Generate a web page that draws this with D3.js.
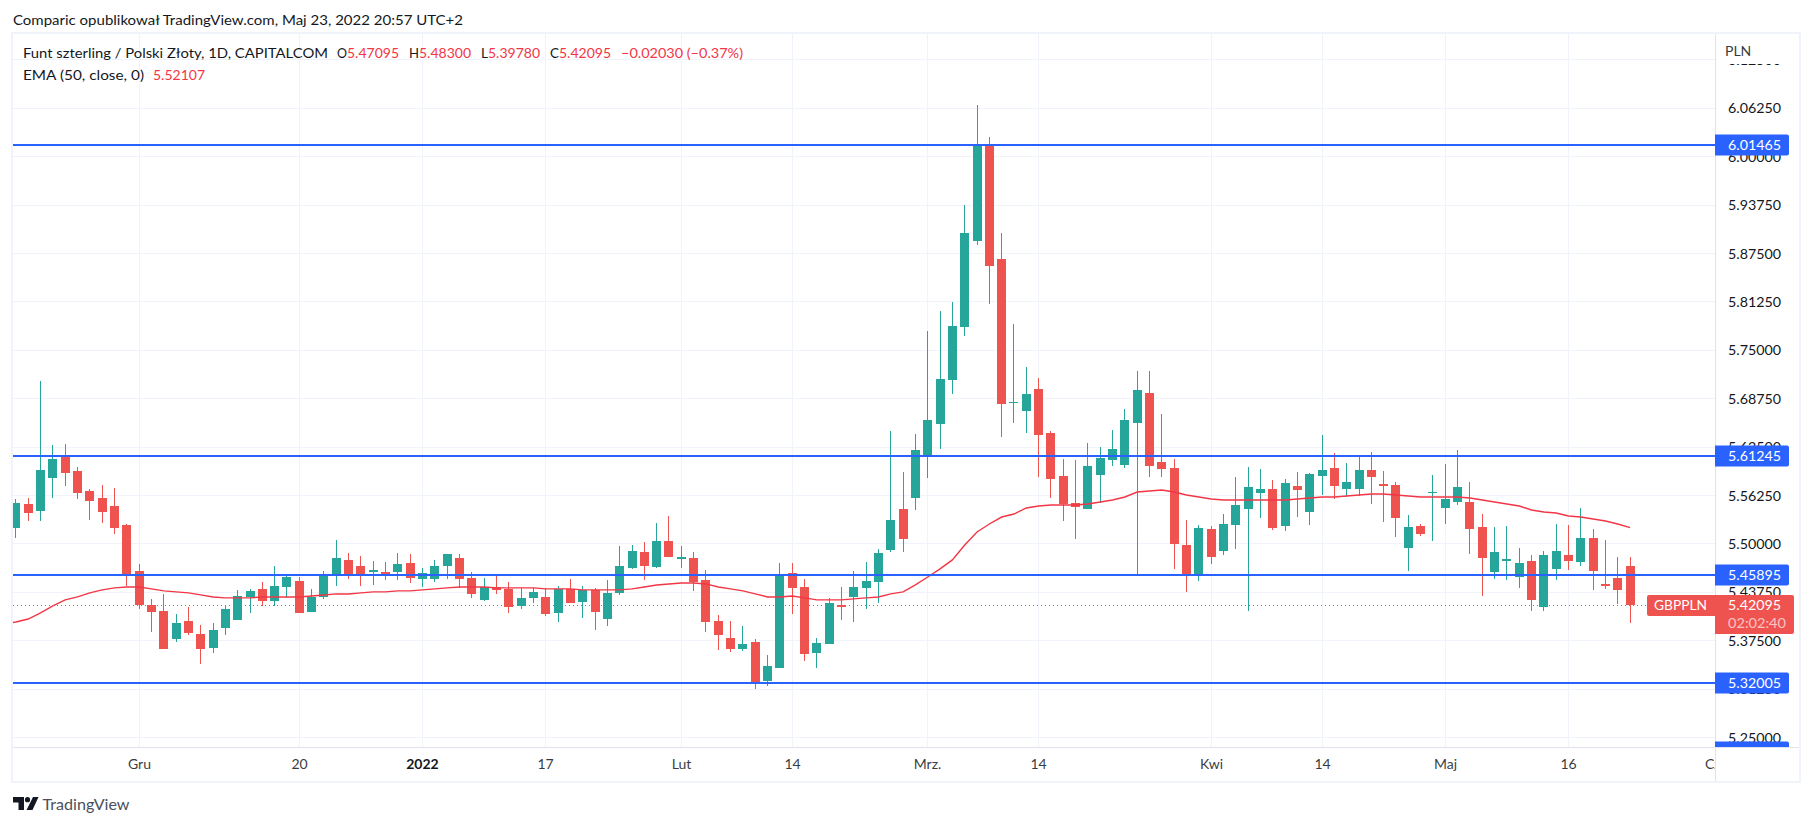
<!DOCTYPE html>
<html><head><meta charset="utf-8">
<script src="https://cdn.jsdelivr.net/npm/d3@7/dist/d3.min.js"></script>
<style>html,body{margin:0;padding:0;background:#fff}svg{display:block}text{font-family:Lato,"Noto Sans",sans-serif}</style>
</head><body><div id="c"></div>
<script>
const open=[5.5206,5.5515,5.5425,5.5851,5.6135,5.5941,5.5683,5.5593,5.5489,5.5244,5.4651,5.4212,5.4134,5.3772,5.4004,5.3837,5.3656,5.3914,5.4017,5.4315,5.4419,5.4264,5.4444,5.4522,5.4121,5.4315,5.4586,5.4793,5.4715,5.4638,5.4638,5.4638,5.4754,5.4548,5.4548,5.4715,5.4819,5.4561,5.4277,5.4444,5.4419,5.4199,5.4303,5.4315,5.4108,5.4419,5.4251,5.4406,5.4030,5.4367,5.4690,5.4896,5.4702,5.5038,5.4806,5.4819,5.4535,5.4004,5.3785,5.3643,5.3733,5.3229,5.3397,5.4625,5.4444,5.3591,5.3708,5.4212,5.4315,5.4432,5.4509,5.4922,5.5451,5.5593,5.6148,5.6548,5.7116,5.7801,5.8912,6.0151,5.8679,5.6820,5.6716,5.7000,5.6432,5.5877,5.5528,5.5451,5.5890,5.6084,5.6019,5.6561,5.6949,5.6058,5.5980,5.4986,5.4599,5.5193,5.4909,5.5244,5.5451,5.5658,5.5709,5.5231,5.5748,5.5412,5.5877,5.5980,5.5709,5.5709,5.5954,5.5774,5.5761,5.4948,5.5231,5.5658,5.5464,5.5541,5.5541,5.5218,5.4638,5.4780,5.4573,5.4780,5.4186,5.4677,5.4857,5.4767,5.5077,5.4483,5.4561,5.47095];
const high=[5.5580,5.5593,5.7104,5.6277,5.6290,5.5993,5.5709,5.5761,5.5722,5.5257,5.4741,5.4290,5.4354,5.4095,5.4186,5.3953,5.3979,5.4199,5.4406,5.4419,5.4509,5.4715,5.4586,5.4573,5.4419,5.4651,5.5051,5.4883,5.4844,5.4780,5.4767,5.4883,5.4870,5.4690,5.4793,5.4870,5.4870,5.4638,5.4561,5.4599,5.4509,5.4432,5.4432,5.4432,5.4457,5.4548,5.4457,5.4432,5.4535,5.4973,5.4986,5.5025,5.5270,5.5360,5.4973,5.4896,5.4664,5.4082,5.4004,5.3940,5.3772,5.3565,5.4754,5.4754,5.4548,5.3785,5.4303,5.4444,5.4651,5.4767,5.4935,5.6458,5.5929,5.6419,5.7749,5.8008,5.8124,5.9376,6.0668,6.0254,5.9015,5.7840,5.7285,5.7142,5.6458,5.6096,5.6084,5.6303,5.6251,5.6471,5.6742,5.7233,5.7233,5.6678,5.6096,5.5309,5.5244,5.5231,5.5386,5.5864,5.5993,5.5967,5.5825,5.5838,5.5929,5.5916,5.6406,5.6174,5.6045,5.6148,5.6187,5.5941,5.5799,5.5373,5.5257,5.5890,5.6032,5.6213,5.5799,5.5386,5.5218,5.5231,5.4948,5.4857,5.4909,5.5257,5.5244,5.5464,5.5193,5.5051,5.4831,5.48300];
const low=[5.5077,5.5296,5.5296,5.5593,5.5748,5.5580,5.5309,5.5270,5.5128,5.4457,5.4161,5.3863,5.3643,5.3733,5.3824,5.3449,5.3591,5.3824,5.4017,5.4108,5.4199,5.4199,5.4303,5.4108,5.4121,5.4290,5.4457,5.4548,5.4457,5.4470,5.4535,5.4535,5.4496,5.4444,5.4509,5.4548,5.4432,5.4303,5.4264,5.4354,5.4108,5.4161,5.4238,5.4069,5.3991,5.4238,5.4043,5.3888,5.3940,5.4341,5.4677,5.4535,5.4690,5.4831,5.4690,5.4393,5.3863,5.3630,5.3604,5.3617,5.3126,5.3165,5.3397,5.4095,5.3488,5.3397,5.3708,5.4017,5.3991,5.4161,5.4238,5.4896,5.4896,5.5438,5.5851,5.6226,5.6936,5.7685,5.8860,5.8098,5.6380,5.6561,5.6432,5.5864,5.5593,5.5296,5.5064,5.5451,5.5528,5.6006,5.5980,5.4586,5.5864,5.5864,5.4677,5.4380,5.4522,5.4741,5.4857,5.4935,5.4134,5.5335,5.5180,5.5167,5.5347,5.5244,5.5632,5.5580,5.5606,5.5619,5.5515,5.5283,5.5089,5.4651,5.5102,5.5038,5.5257,5.5502,5.4870,5.4328,5.4548,5.4535,5.4432,5.4134,5.4134,5.4535,5.4664,5.4715,5.4406,5.4419,5.4225,5.39780];
const close=[5.5528,5.5399,5.5954,5.6096,5.5916,5.5658,5.5554,5.5412,5.5206,5.4612,5.4212,5.4121,5.3643,5.3979,5.3850,5.3643,5.3888,5.4161,5.4328,5.4393,5.4264,5.4457,5.4573,5.4108,5.4315,5.4612,5.4819,5.4599,5.4612,5.4664,5.4586,5.4741,5.4561,5.4625,5.4715,5.4870,5.4548,5.4354,5.4444,5.4406,5.4186,5.4303,5.4380,5.4095,5.4419,5.4238,5.4406,5.4121,5.4367,5.4715,5.4909,5.4715,5.5038,5.4831,5.4831,5.4509,5.3991,5.3824,5.3643,5.3708,5.3191,5.3423,5.4599,5.4432,5.3578,5.3720,5.4238,5.4186,5.4444,5.4522,5.4883,5.5309,5.5064,5.6213,5.6600,5.7129,5.7814,5.9015,6.0151,5.8589,5.6807,5.6833,5.6936,5.6406,5.5838,5.5515,5.5476,5.6006,5.6109,5.6226,5.6600,5.6987,5.6006,5.5967,5.4999,5.4586,5.5206,5.4831,5.5257,5.5502,5.5735,5.5709,5.5206,5.5787,5.5696,5.5903,5.5954,5.5748,5.5799,5.5954,5.5864,5.5748,5.5335,5.5218,5.5128,5.5670,5.5580,5.5735,5.5193,5.4819,5.4896,5.4806,5.4754,5.4277,5.4857,5.4909,5.4780,5.5077,5.4651,5.4457,5.4406,5.42095];
const ema=[5.3991,5.4030,5.4108,5.4199,5.4277,5.4315,5.4367,5.4406,5.4432,5.4444,5.4444,5.4419,5.4393,5.4380,5.4367,5.4341,5.4315,5.4303,5.4303,5.4303,5.4315,5.4315,5.4315,5.4315,5.4328,5.4341,5.4354,5.4354,5.4367,5.4380,5.4380,5.4393,5.4393,5.4406,5.4419,5.4432,5.4444,5.4444,5.4444,5.4432,5.4432,5.4432,5.4432,5.4419,5.4419,5.4419,5.4406,5.4406,5.4406,5.4406,5.4419,5.4444,5.4470,5.4483,5.4496,5.4496,5.4483,5.4444,5.4419,5.4393,5.4354,5.4315,5.4315,5.4328,5.4303,5.4277,5.4277,5.4277,5.4290,5.4303,5.4315,5.4354,5.4380,5.4470,5.4573,5.4677,5.4793,5.4986,5.5154,5.5257,5.5347,5.5386,5.5464,5.5489,5.5502,5.5502,5.5502,5.5515,5.5541,5.5567,5.5606,5.5670,5.5683,5.5696,5.5670,5.5632,5.5606,5.5580,5.5567,5.5567,5.5567,5.5567,5.5567,5.5567,5.5580,5.5593,5.5606,5.5606,5.5619,5.5632,5.5645,5.5645,5.5632,5.5619,5.5606,5.5606,5.5606,5.5606,5.5593,5.5567,5.5541,5.5515,5.5489,5.5438,5.5412,5.5399,5.5360,5.5347,5.5322,5.5296,5.5257,5.52107];
const emaBeforeFirstBar=5.3965;
const priceTicks=[6.125,6.0625,6,5.9375,5.875,5.8125,5.75,5.6875,5.625,5.5625,5.5,5.4375,5.375,5.3125,5.25];
const levels=[6.01465,5.61245,5.45895,5.32005,5.2306];
const timeIdx=[10,23,33,43,54,63,74,83,97,106,116,126,138];
const timeLbl=["Gru","20","2022","17","Lut","14","Mrz.","14","Kwi","14","Maj","16","Cze"];
const lastClose=5.42095;
const symbol="GBPPLN", countdown="02:02:40";

const W=1813,H=826;
const paneL=13,paneR=1715,paneT=34,paneB=747;
const svg=d3.select("#c").append("svg").attr("width",W).attr("height",H);
const x=d3.scaleLinear().domain([0,131]).range([15.9,1630.1]);
const y=d3.scaleLinear().domain([6.0625,5.25]).range([108.3,737.5]);
const cx=i=>Math.floor(x(i))+.5;
const gy=v=>Math.floor(y(v))+.5;
const ink="#131722",green="#26a69a",red="#ef5350",blue="#2962ff",grid="#f0f3fa",axisC="#e0e3eb",legRed="#f23645";
const defs=svg.append("defs");
defs.append("clipPath").attr("id","pane").append("rect").attr("x",paneL).attr("y",paneT).attr("width",paneR-paneL).attr("height",paneB-paneT);
defs.append("clipPath").attr("id","paxis").append("rect").attr("x",paneR).attr("y",paneT).attr("width",90).attr("height",paneB-paneT);
defs.append("clipPath").attr("id","taxis").append("rect").attr("x",paneL).attr("y",paneB).attr("width",paneR-paneL).attr("height",34);

// frame
svg.append("rect").attr("x",12).attr("y",33).attr("width",1788).attr("height",749).attr("fill","none").attr("stroke",grid).attr("stroke-width",2);

const P=svg.append("g").attr("clip-path","url(#pane)");
// grid
P.append("g").selectAll("line").data(priceTicks).join("line").attr("x1",paneL).attr("x2",paneR).attr("y1",gy).attr("y2",gy).attr("stroke",grid).attr("shape-rendering","crispEdges");
P.append("g").selectAll("line").data(timeIdx).join("line").attr("x1",cx).attr("x2",cx).attr("y1",paneT).attr("y2",paneB).attr("stroke",grid).attr("shape-rendering","crispEdges");

// wicks & bodies
const idx=d3.range(open.length);
const col=i=>close[i]>=open[i]?green:red;
P.append("g").attr("shape-rendering","crispEdges").selectAll("rect").data(idx).join("rect")
 .attr("x",i=>cx(i)-.5).attr("width",1).attr("y",i=>Math.round(y(high[i]))).attr("height",i=>Math.max(1,Math.round(y(low[i]))-Math.round(y(high[i])))).attr("fill",col);
P.append("g").attr("shape-rendering","crispEdges").selectAll("rect").data(idx).join("rect")
 .attr("x",i=>cx(i)-4.5).attr("width",9)
 .attr("y",i=>Math.round(y(Math.max(open[i],close[i]))))
 .attr("height",i=>Math.max(1,Math.round(y(Math.min(open[i],close[i])))-Math.round(y(Math.max(open[i],close[i]))))).attr("fill",col);
// EMA
const emaPts=[[-1,emaBeforeFirstBar]].concat(ema.map((v,i)=>[i,v]));
P.append("path").attr("d",d3.line().x(d=>x(d[0])).y(d=>y(d[1]))(emaPts)).attr("fill","none").attr("stroke",legRed).attr("stroke-width",1.4);
// last price dotted
P.append("line").attr("x1",paneL).attr("x2",paneR).attr("y1",Math.floor(y(lastClose))+.5).attr("y2",Math.floor(y(lastClose))+.5).attr("stroke",red).attr("stroke-dasharray","1 3").attr("shape-rendering","crispEdges");
// horizontal levels
P.append("g").selectAll("rect").data(levels).join("rect").attr("x",paneL).attr("width",paneR-paneL).attr("y",d=>Math.floor(y(d))-1).attr("height",2).attr("fill",blue).attr("shape-rendering","crispEdges");

// axes lines
svg.append("line").attr("x1",paneR+.5).attr("x2",paneR+.5).attr("y1",paneT).attr("y2",781).attr("stroke",axisC).attr("shape-rendering","crispEdges");
svg.append("line").attr("x1",paneL).attr("x2",1799).attr("y1",paneB+.5).attr("y2",paneB+.5).attr("stroke",axisC).attr("shape-rendering","crispEdges");

// price axis
const PA=svg.append("g").attr("clip-path","url(#paxis)");
PA.selectAll("text.p").data(priceTicks).join("text").attr("class","p").attr("x",1728).attr("y",d=>y(d)+5).attr("font-size",14).attr("fill",ink).attr("textLength",53).attr("lengthAdjust","spacingAndGlyphs").text(d=>d.toFixed(5));
PA.append("rect").attr("x",paneR+1).attr("y",paneT).attr("width",80).attr("height",30).attr("fill","#fff");
svg.append("text").attr("x",1725).attr("y",55.5).attr("font-size",14).attr("fill",ink).attr("opacity",.85).text("PLN");
// level tags
const tags=PA.append("g").selectAll("g").data(levels).join("g").attr("transform",d=>`translate(${paneR},${Math.floor(y(d))})`);
tags.append("path").attr("d","M0,-10.5H72a2,2 0 0 1 2,2V8.5a2,2 0 0 1 -2,2H0Z").attr("fill",blue);
tags.append("text").attr("x",13).attr("y",5).attr("font-size",14).attr("fill","#fff").attr("textLength",53).attr("lengthAdjust","spacingAndGlyphs").text(d=>d.toFixed(5));
// last price tags
const ly=Math.round(y(lastClose));
svg.append("path").attr("d",`M${paneR},${ly-10}H1792a2,2 0 0 1 2,2V${ly+27}a2,2 0 0 1 -2,2H${paneR}Z`).attr("fill",red);
svg.append("path").attr("d",`M${paneR},${ly-10}H1649a2,2 0 0 0 -2,2V${ly+9}a2,2 0 0 0 2,2H${paneR}Z`).attr("fill",red);
svg.append("text").attr("x",1654).attr("y",ly+5).attr("font-size",14).attr("fill","#fff").attr("textLength",53).attr("lengthAdjust","spacingAndGlyphs").text(symbol);
svg.append("text").attr("x",1728).attr("y",ly+5).attr("font-size",14).attr("fill","#fff").attr("textLength",53).attr("lengthAdjust","spacingAndGlyphs").text(lastClose.toFixed(5));
svg.append("text").attr("x",1728).attr("y",ly+23).attr("font-size",14).attr("fill","#fff").attr("opacity",.65).attr("textLength",58).attr("lengthAdjust","spacingAndGlyphs").text(countdown);

// time axis
svg.append("g").attr("clip-path","url(#taxis)").selectAll("text").data(timeIdx).join("text")
 .attr("x",i=>cx(i)).attr("y",769).attr("text-anchor","middle").attr("font-size",14)
 .attr("font-weight",(d,i)=>timeLbl[i]==="2022"?700:400).attr("fill",ink).attr("opacity",(d,i)=>timeLbl[i]==="2022"?1:.85)
 .text((d,i)=>timeLbl[i]);

// header texts
function T(s,xp,yp,len,fill){svg.append("text").attr("x",xp).attr("y",yp).attr("font-size",14).attr("fill",fill||ink).attr("textLength",len).attr("lengthAdjust","spacingAndGlyphs").text(s);}
T("Comparic opublikował TradingView.com, Maj 23, 2022 20:57 UTC+2",13,25,450,"#131722");
T("Funt szterling / Polski Złoty, 1D, CAPITALCOM",23,58,305);
const f5=v=>v.toFixed(5);
const last=open.length-1;
T("O",337,58,10); T(f5(open[last]),347,58,52,legRed);
T("H",409,58,10); T(f5(high[last]),419,58,52,legRed);
T("L",481,58,7);  T(f5(low[last]),488,58,52,legRed);
T("C",550,58,9);  T(f5(close[last]),559,58,52,legRed);
T("−0.02030 (−0.37%)",621,58,122,legRed);
T("EMA (50, close, 0)",23,80,121);
T(f5(ema[last]),153,80,52,legRed);

// logo
svg.append("path").attr("d","M13,797H24V810H18.5V802.5H13Z M33,797H38.5L32.5,810H26.5Z").attr("fill","#131722");
svg.append("circle").attr("cx",27.5).attr("cy",799.7).attr("r",2.6).attr("fill","#131722");
svg.append("text").attr("x",42.5).attr("y",810).attr("font-size",16).attr("fill","#4a4f5c").attr("textLength",87).attr("lengthAdjust","spacingAndGlyphs").text("TradingView");
</script></body></html>
